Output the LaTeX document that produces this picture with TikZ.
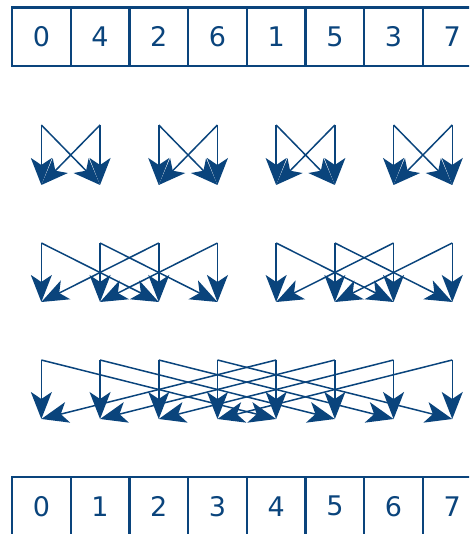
\documentclass[tikz,border=0pt]{standalone}
\usepackage{fontspec}
\setmainfont{DejaVu Sans}
\usetikzlibrary{arrows.meta}
\definecolor{fftblue}{RGB}{10,68,124}
\tikzset{
  cell/.style={draw=fftblue, line width=2.4pt, minimum width=58.7pt, minimum height=58.5pt,
    inner sep=0pt, outer sep=0pt, text=fftblue, font=\fontsize{27}{30}\selectfont, anchor=north west},
  flow/.style={color=fftblue, line width=1.5pt,
    -{Stealth[length=27pt,width=21pt,inset=7pt,fill=fftblue]}}
}
\begin{document}
\begin{tikzpicture}[x=1pt,y=-1pt]
\useasboundingbox (0,0) rectangle (469,534);
\clip (0,0) rectangle (469,534);
\foreach \v [count=\i from 0] in {0,4,2,6,1,5,3,7}{
  \node[cell] (t\i) at ({12+58.7*\i},7.5) {\v};
}
\foreach \i in {0,...,7}{
  \node[cell] (b\i) at ({12+58.7*\i},477) {\i};
}
% stage coordinates
\foreach \i in {0,...,7}{
  \coordinate (a\i) at ({41.35+58.7*\i},125);
  \coordinate (A\i) at ({41.35+58.7*\i},185);
  \coordinate (m\i) at ({41.35+58.7*\i},243);
  \coordinate (M\i) at ({41.35+58.7*\i},302);
  \coordinate (n\i) at ({41.35+58.7*\i},360);
  \coordinate (N\i) at ({41.35+58.7*\i},419);
}
% stage 1
\foreach \p/\q in {0/1,2/3,4/5,6/7}{
  \draw[flow] (a\p) -- (A\p);
  \draw[flow] (a\q) -- (A\q);
  \draw[flow] (a\p) -- (A\q);
  \draw[flow] (a\q) -- (A\p);
}
% stage 2
\foreach \p/\q in {0/2,1/3,4/6,5/7}{
  \draw[flow] (m\p) -- (M\p);
  \draw[flow] (m\q) -- (M\q);
  \draw[flow] (m\p) -- (M\q);
  \draw[flow] (m\q) -- (M\p);
}
% stage 3
\foreach \p/\q in {0/4,1/5,2/6,3/7}{
  \draw[flow] (n\p) -- (N\p);
  \draw[flow] (n\q) -- (N\q);
  \draw[flow] (n\p) -- (N\q);
  \draw[flow] (n\q) -- (N\p);
}
\end{tikzpicture}
\end{document}
